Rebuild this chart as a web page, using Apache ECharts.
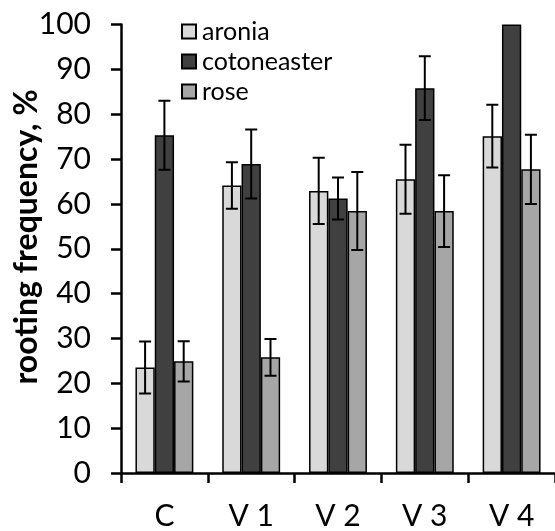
<!DOCTYPE html>
<html>
<head>
<meta charset="utf-8">
<script src="https://cdn.jsdelivr.net/npm/echarts@6/dist/echarts.min.js"></script>
<style>
html,body{margin:0;padding:0;background:#fff;}
#chart{width:555px;height:531px;}
</style>
</head>
<body>
<div id="chart"></div>
<script>
const categories = ['C', 'V 1', 'V 2', 'V 3', 'V 4'];
const aronia = [23.5, 64.1, 62.9, 65.5, 75.1];
const cotoneaster = [75.3, 68.9, 61.2, 85.8, 100];
const rose = [24.9, 25.8, 58.4, 58.4, 67.7];
const aroniaErr = [5.8, 5.2, 7.4, 7.7, 7.0];
const cotoneasterErr = [7.7, 7.7, 4.7, 7.1, 0];
const roseErr = [4.5, 4.1, 8.7, 8.0, 7.7];
const yTicks = [0, 10, 20, 30, 40, 50, 60, 70, 80, 90, 100];

const FONT = 'Lato';
const CAT_GAP = 0.333;

function barSeries(name, data, color) {
  return {
    type: 'bar', name: name, data: data,
    barGap: '0%', barCategoryGap: (CAT_GAP * 100) + '%',
    itemStyle: { color: color, borderColor: '#000', borderWidth: 1.5 },
    z: 2
  };
}

function errSeries(idx, vals, errs) {
  return {
    type: 'custom',
    name: 'err' + idx,
    silent: true,
    clip: true,
    z: 5,
    renderItem: function (params, api) {
      const xi = api.value(0), v = api.value(1), e = api.value(2);
      if (!e) return null;
      const band = api.size([1, 0])[0];
      const bw = band * (1 - CAT_GAP) / 3;
      const c = api.coord([xi, v]);
      const x = c[0] + (idx - 1) * bw;
      const top = api.coord([xi, v + e])[1];
      const bot = api.coord([xi, v - e])[1];
      const hw = 6;
      const st = { stroke: '#000', lineWidth: 2 };
      return {
        type: 'group',
        children: [
          { type: 'line', shape: { x1: x, y1: top, x2: x, y2: bot }, style: st },
          { type: 'line', shape: { x1: x - hw, y1: top, x2: x + hw, y2: top }, style: st },
          { type: 'line', shape: { x1: x - hw, y1: bot, x2: x + hw, y2: bot }, style: st }
        ]
      };
    },
    data: categories.map(function (c, i) { return [i, vals[i], errs[i]]; })
  };
}

const chart = echarts.init(document.getElementById('chart'), null, { renderer: 'canvas' });
chart.setOption({
  animation: false,
  backgroundColor: '#fff',
  grid: { left: 121, right: 0, top: 24.5, bottom: 52.5, containLabel: false },
  legend: {
    data: ['aronia', 'cotoneaster', 'rose'],
    orient: 'vertical',
    left: 181, top: 19,
    padding: 0,
    itemWidth: 14, itemHeight: 14, itemGap: 5,
    icon: 'rect',
    textStyle: { fontFamily: FONT, fontSize: 25, color: '#000', padding: [0, 0, 0, 1] }
  },
  xAxis: {
    type: 'category',
    data: categories,
    axisLine: { lineStyle: { color: '#000', width: 2.5 } },
    axisTick: { show: true, inside: false, length: 10, lineStyle: { color: '#000', width: 2.5 } },
    axisLabel: { fontFamily: FONT, fontSize: 30, color: '#000', margin: 28 },
    splitLine: { show: false }
  },
  yAxis: {
    type: 'value',
    min: yTicks[0], max: yTicks[yTicks.length - 1], interval: 10,
    axisLine: { show: true, lineStyle: { color: '#000', width: 2.5 } },
    axisTick: { show: true, inside: false, length: 10, lineStyle: { color: '#000', width: 2.5 } },
    axisLabel: { fontFamily: FONT, fontSize: 30, color: '#000', margin: 30 },
    splitLine: { show: false }
  },
  graphic: [{
    type: 'text',
    x: 27, y: 237,
    rotation: Math.PI / 2,
    style: {
      text: 'rooting frequency, %',
      fontFamily: FONT, fontWeight: 'bold', fontSize: 32,
      fill: '#000', align: 'center', verticalAlign: 'middle'
    }
  }],
  series: [
    barSeries('aronia', aronia, '#d9d9d9'),
    barSeries('cotoneaster', cotoneaster, '#404040'),
    barSeries('rose', rose, '#a6a6a6'),
    errSeries(0, aronia, aroniaErr),
    errSeries(1, cotoneaster, cotoneasterErr),
    errSeries(2, rose, roseErr)
  ]
});
</script>
</body>
</html>
